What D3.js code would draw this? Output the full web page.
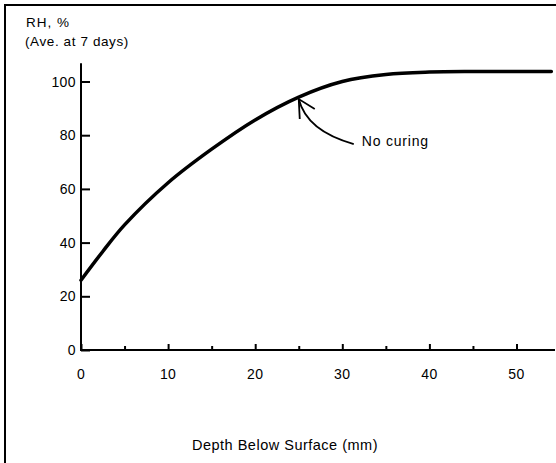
<!DOCTYPE html>
<html>
<head>
<meta charset="utf-8">
<script src="https://cdn.jsdelivr.net/npm/d3@7"></script>
<style>
    body { margin: 0; background: #fff; }
    svg { display: block; font-family: "Liberation Sans", Arial, sans-serif; }
</style>
</head>
<body>
<div id="chart"></div>
<script>
// data
let depth = [0, 2.5, 5, 10, 15, 20, 25, 30, 35, 40, 45, 50, 54];
let rh = [26, 36.7, 46.6, 62.3, 74.8, 85.7, 94.2, 100, 102.6, 103.5, 103.7, 103.7, 103.7];
let xTicks = [0, 10, 20, 30, 40, 50];
let xMinorTicks = [5, 15, 25, 35, 45];
let yTicks = [0, 20, 40, 60, 80, 100];
let seriesLabel = "No curing";

class CurveChart {

    constructor() {
        this.setDefaults();
    }

    setDefaults() {
        this.width = 556;
        this.height = 463;
        this.x0 = 81;
        this.x50 = 516.5;
        this.y0 = 350;
        this.y100 = 81.5;
        this.ink = "#000";
    }

    /*
     *  Build the scales and the svg.
     */
    prepare() {
        this.x = d3.scaleLinear().domain([0, 50]).range([this.x0, this.x50]);
        this.y = d3.scaleLinear().domain([0, 100]).range([this.y0, this.y100]);

        this.svg = d3.select("#chart").append("svg")
            .attr("width", this.width)
            .attr("height", this.height);
    }

    /*
     *  Frame left from the scan (top and left edge only).
     */
    drawFrame() {
        this.svg.append("path")
            .attr("d", "M5," + this.height + "V5H" + this.width)
            .attr("fill", "none")
            .attr("stroke", this.ink)
            .attr("stroke-width", 2);
    }

    drawAxes() {
        let x = this.x, y = this.y;

        // x axis, ticks pointing up
        let xAxis = d3.axisTop(x).tickValues(xTicks).tickSize(6).tickFormat("");
        let gx = this.svg.append("g")
            .attr("transform", "translate(0," + y(0) + ")")
            .call(xAxis);
        gx.select(".domain").remove();
        gx.selectAll(".tick line").attr("stroke-width", 2);

        let gxm = this.svg.append("g")
            .attr("transform", "translate(0," + y(0) + ")")
            .call(d3.axisTop(x).tickValues(xMinorTicks).tickSize(4).tickFormat(""));
        gxm.select(".domain").remove();
        gxm.selectAll(".tick line").attr("stroke-width", 2);

        this.svg.append("line")
            .attr("x1", x(0) - 1).attr("x2", this.width - 1)
            .attr("y1", y(0)).attr("y2", y(0))
            .attr("stroke", this.ink)
            .attr("stroke-width", 2);

        this.svg.append("g").selectAll("text")
            .data(xTicks)
            .join("text")
            .attr("x", d => x(d))
            .attr("y", y(0) + 29)
            .attr("text-anchor", "middle")
            .attr("font-size", 14)
            .attr("letter-spacing", 0.4)
            .text(d => d);

        // y axis, ticks pointing right
        let gy = this.svg.append("g")
            .attr("transform", "translate(" + x(0) + ",0)")
            .call(d3.axisRight(y).tickValues(yTicks).tickSize(9).tickFormat(""));
        gy.select(".domain").remove();
        gy.selectAll(".tick line").attr("stroke-width", 2);

        this.svg.append("line")
            .attr("x1", x(0)).attr("x2", x(0))
            .attr("y1", y(106.8)).attr("y2", y(0) + 1)
            .attr("stroke", this.ink)
            .attr("stroke-width", 2);

        this.svg.append("g").selectAll("text")
            .data(yTicks)
            .join("text")
            .attr("x", x(0) - 5)
            .attr("y", d => y(d) + 5)
            .attr("text-anchor", "end")
            .attr("font-size", 14)
            .attr("letter-spacing", 0.4)
            .text(d => d);
    }

    drawLabels() {
        this.svg.append("text")
            .attr("x", 26).attr("y", 27)
            .attr("font-size", 13.5)
            .attr("letter-spacing", 1)
            .text("RH, %");
        this.svg.append("text")
            .attr("x", 25).attr("y", 46)
            .attr("font-size", 13.5)
            .attr("letter-spacing", 0.6)
            .text("(Ave. at 7 days)");
        this.svg.append("text")
            .attr("x", 285).attr("y", 450)
            .attr("text-anchor", "middle")
            .attr("font-size", 14.5)
            .attr("letter-spacing", 0.5)
            .text("Depth Below Surface (mm)");
    }

    drawCurve() {
        let x = this.x, y = this.y;
        let line = d3.line()
            .x(d => x(d[0]))
            .y(d => y(d[1]))
            .curve(d3.curveCatmullRom.alpha(0.5));

        this.svg.append("path")
            .datum(d3.zip(depth, rh))
            .attr("d", line)
            .attr("fill", "none")
            .attr("stroke", this.ink)
            .attr("stroke-width", 3.5)
            .attr("stroke-linecap", "round");
    }

    /*
     *  Curved arrow pointing at the curve, with its label.
     */
    drawAnnotation() {
        let tx = this.x(25), ty = this.y(94.2) + 2;

        this.svg.append("path")
            .attr("d", "M" + (tx + 55) + "," + (ty + 45) +
                       "Q" + (tx + 8) + "," + (ty + 32) + " " + tx + "," + ty)
            .attr("fill", "none")
            .attr("stroke", this.ink)
            .attr("stroke-width", 1.8);

        this.svg.append("path")
            .attr("d", "M" + (tx + 16) + "," + (ty + 10) + "L" + tx + "," + ty + "L" + (tx + 1) + "," + (ty + 20))
            .attr("fill", "none")
            .attr("stroke", this.ink)
            .attr("stroke-width", 1.8);

        this.svg.append("text")
            .attr("x", tx + 63).attr("y", ty + 47)
            .attr("font-size", 14)
            .attr("letter-spacing", 0.8)
            .text(seriesLabel);
    }

    update() {
        this.prepare();
        this.drawFrame();
        this.drawAxes();
        this.drawLabels();
        this.drawCurve();
        this.drawAnnotation();
    }
}

let chart = new CurveChart();
chart.update();
</script>
</body>
</html>
